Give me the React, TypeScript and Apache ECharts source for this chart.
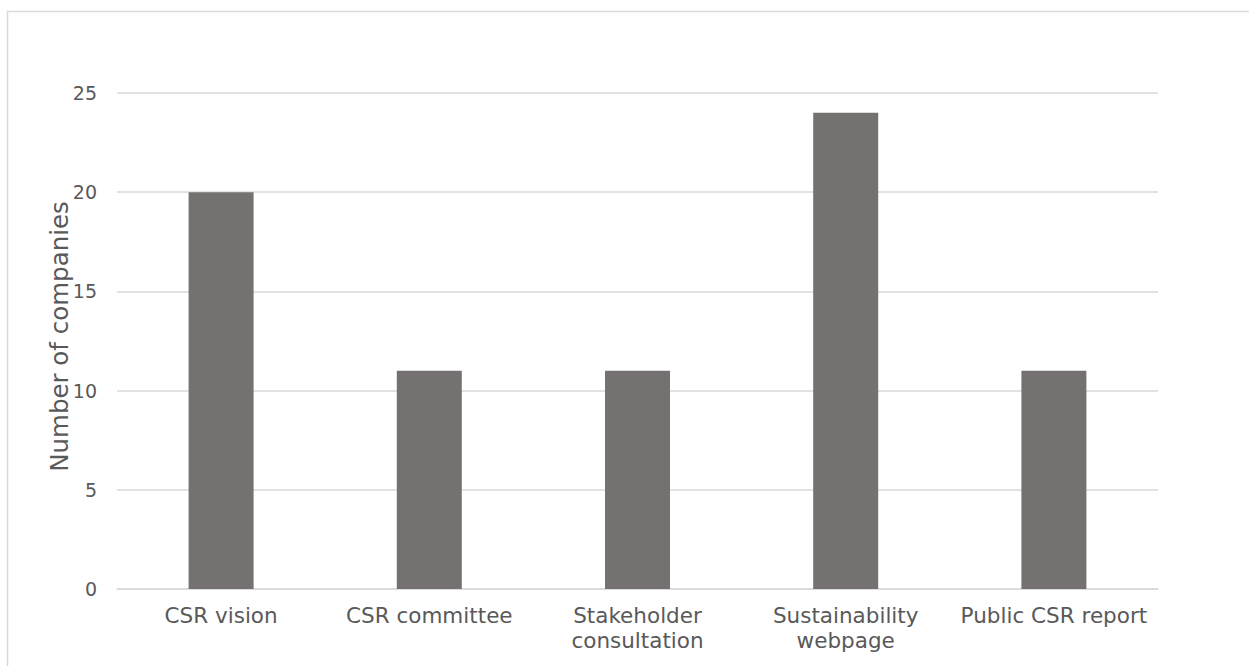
import React, { useEffect, useRef } from "react";
import * as echarts from "echarts";

const categories = [
  "CSR vision",
  "CSR committee",
  "Stakeholder\nconsultation",
  "Sustainability\nwebpage",
  "Public CSR report",
];
const companyCounts = [20, 11, 11, 24, 11];
const yTicks = { min: 0, max: 25, interval: 5 };
const yAxisTitle = "Number of companies";

const FONT = "'DejaVu Sans', Verdana, sans-serif";
const TEXT = "#595959";
const LINE = "#d9d9d9";
const BAR = "#757171";

export default function App() {
  const ref = useRef<HTMLDivElement>(null);

  useEffect(() => {
    if (!ref.current) return;
    const chart = echarts.init(ref.current, null, { renderer: "svg" });
    chart.setOption({
      animation: false,
      backgroundColor: "#ffffff",
      textStyle: { fontFamily: FONT },
      grid: { left: 117, right: 91, top: 93, bottom: 77, containLabel: false },
      graphic: [
        {
          type: "rect",
          shape: { x: 7.5, y: 11.5, width: 1400, height: 800 },
          style: { fill: "none", stroke: LINE, lineWidth: 1.5 },
          silent: true,
        },
      ],
      xAxis: {
        type: "category",
        data: categories,
        axisLine: { show: true, lineStyle: { color: LINE, width: 1.5 } },
        axisTick: { show: false },
        axisLabel: {
          color: TEXT,
          fontFamily: FONT,
          fontSize: 21.5,
          lineHeight: 25,
          margin: 14,
          interval: 0,
        },
      },
      yAxis: {
        type: "value",
        min: yTicks.min,
        max: yTicks.max,
        interval: yTicks.interval,
        name: yAxisTitle,
        nameLocation: "middle",
        nameRotate: 90,
        nameGap: 45,
        nameMoveOverlap: false,
        nameTextStyle: {
          color: TEXT,
          fontFamily: FONT,
          fontSize: 24.5,
          padding: [0, 0, 0, 9],
        },
        axisLine: { show: false },
        axisTick: { show: false },
        axisLabel: { color: TEXT, fontFamily: FONT, fontSize: 19, margin: 20 },
        splitLine: { lineStyle: { color: LINE, width: 1.5 } },
      },
      series: [
        {
          type: "bar",
          data: companyCounts,
          barWidth: 65,
          itemStyle: { color: BAR },
        },
      ],
    });
    return () => chart.dispose();
  }, []);

  return (
    <div
      ref={ref}
      style={{ position: "fixed", left: 0, top: 0, width: 1249, height: 666 }}
    />
  );
}
